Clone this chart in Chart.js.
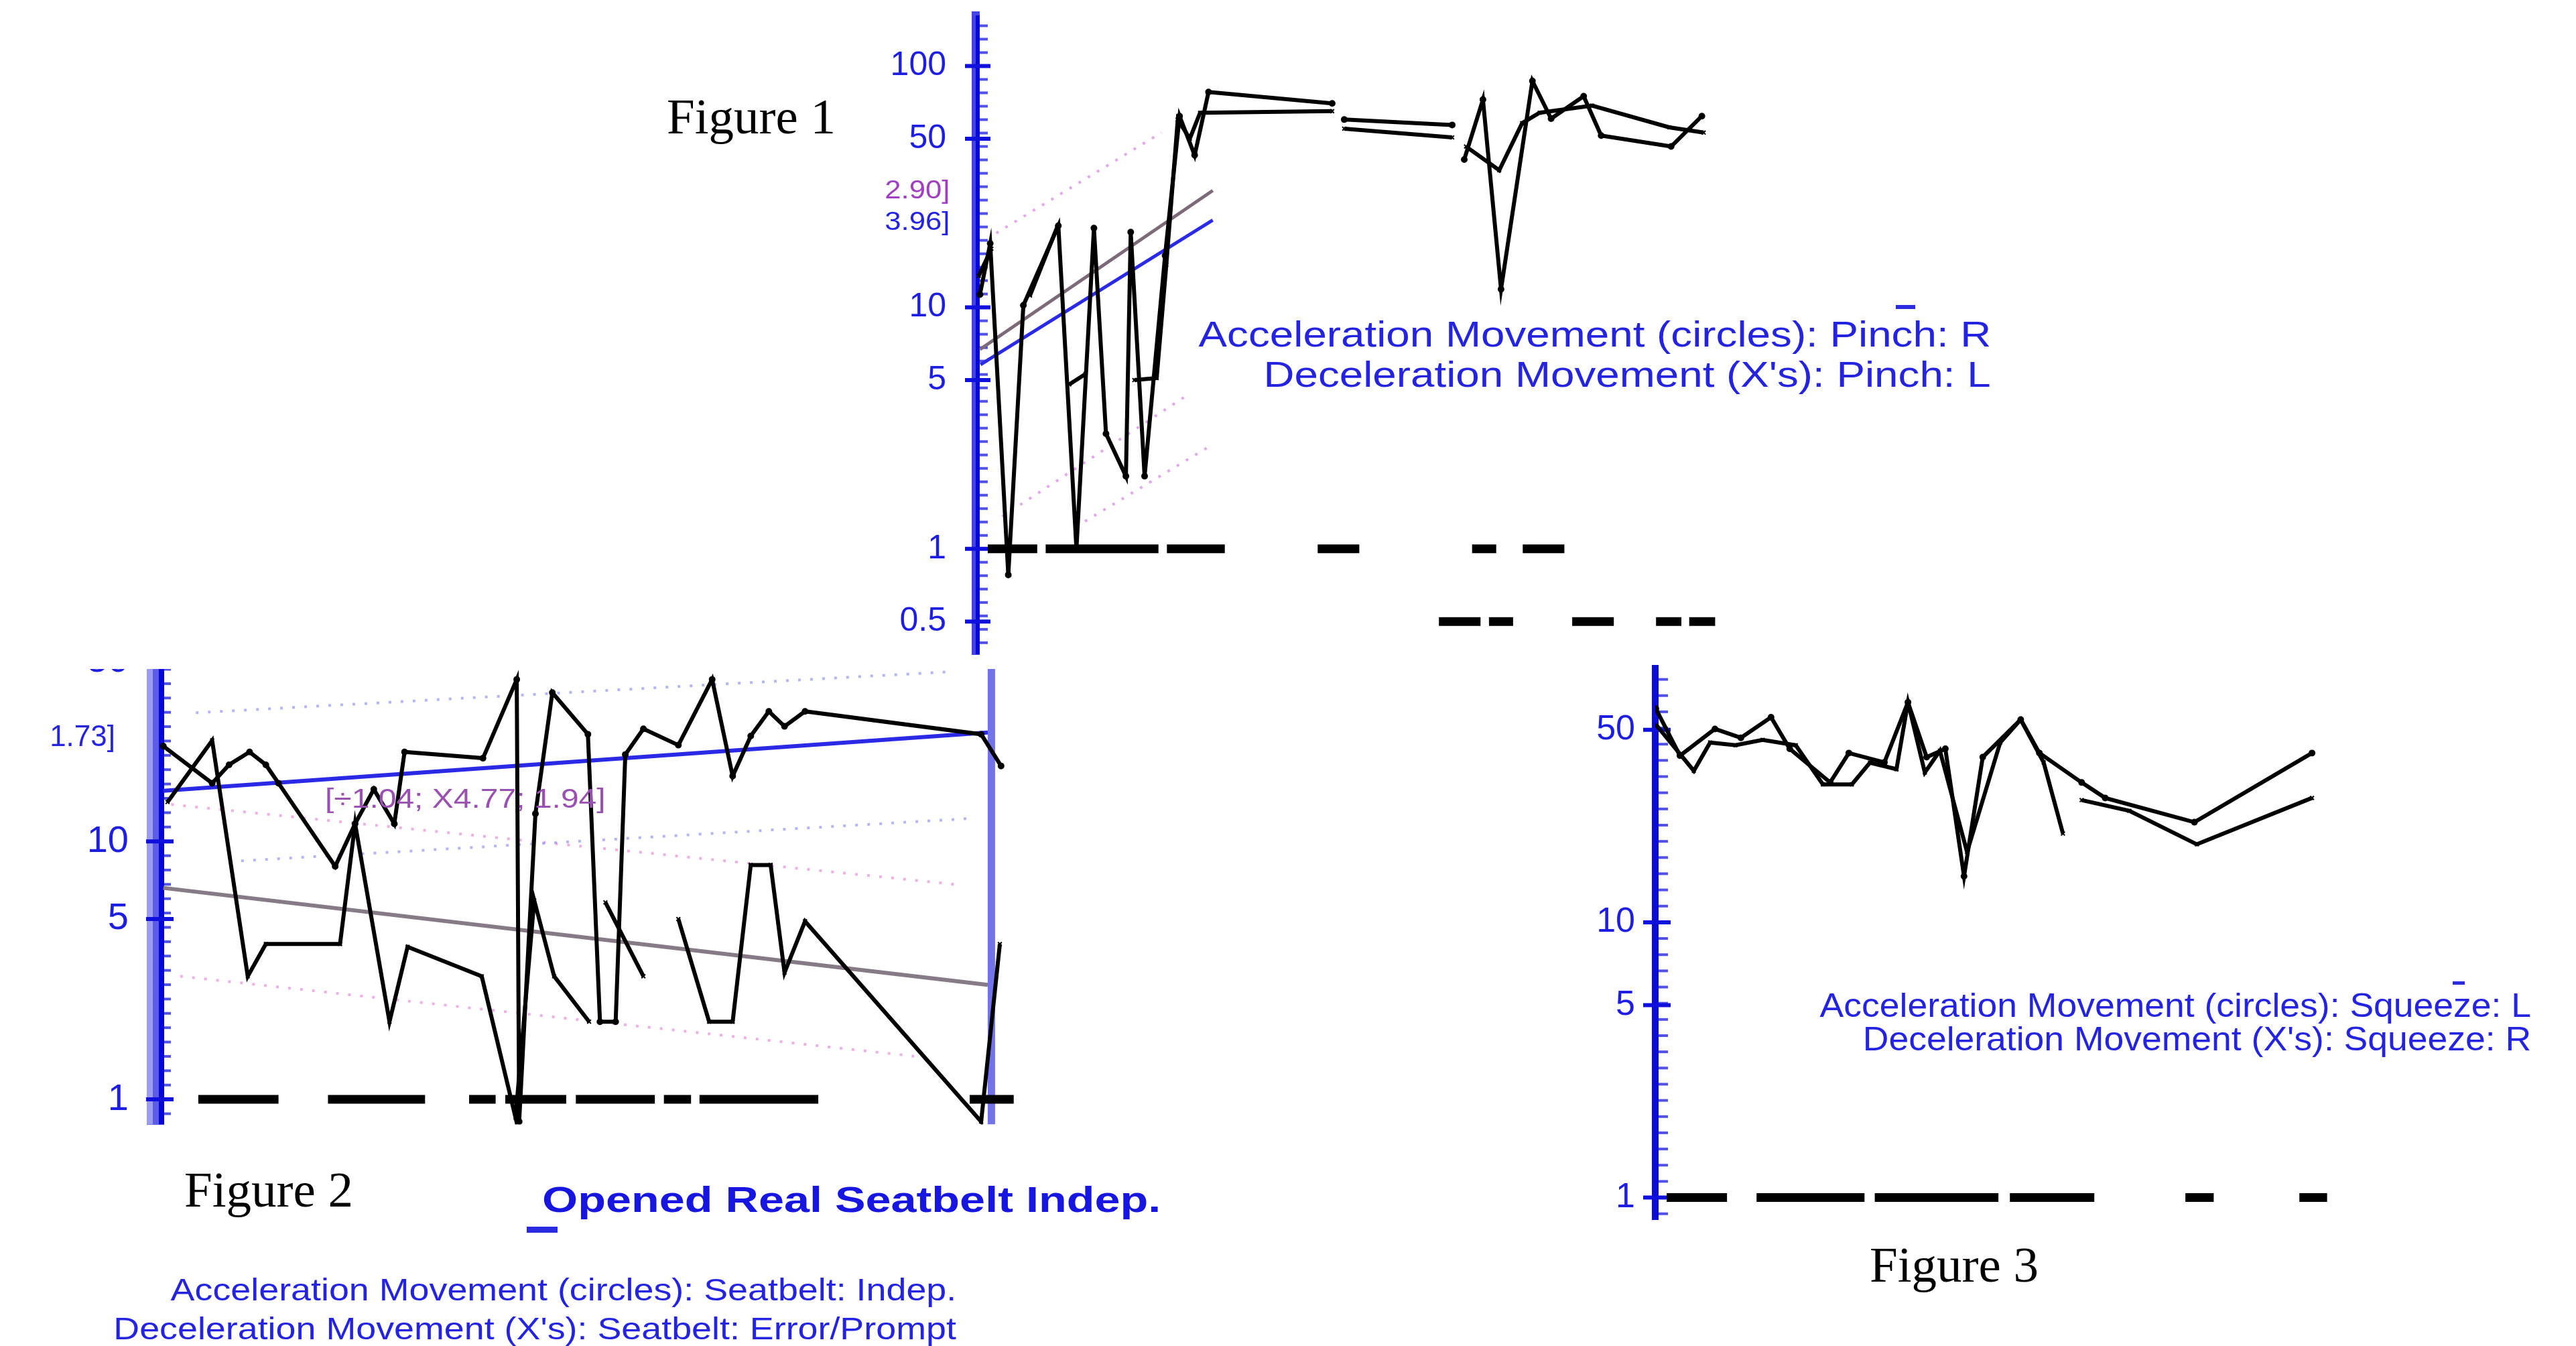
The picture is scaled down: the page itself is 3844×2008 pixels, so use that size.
<!DOCTYPE html>
<html>
<head>
<meta charset="utf-8">
<script src="https://cdn.jsdelivr.net/npm/chart.js@4.4.0/dist/chart.umd.min.js"></script>
<style>
  body { margin: 0; width: 3844px; height: 2008px; background: #fff; position: relative; overflow: hidden; }
  canvas { position: absolute; }
  .t { position: absolute; white-space: nowrap; line-height: 1; }
  .fig { font-family: 'Liberation Serif', 'Times New Roman', serif; font-size: 75px; color: #000; }
  .leg { font-family: 'Liberation Sans', Arial, sans-serif; color: #2424e0; }
  .mark { position: absolute; background: #2a2ae0; }
</style>
</head>
<body>
<canvas id="fig2"></canvas>
<div id="cover" style="position:absolute;left:0;top:860px;width:1545px;height:138px;background:#fff"></div>
<canvas id="fig1"></canvas>
<canvas id="fig3"></canvas>

<div class="t fig" style="left:995px;top:136px">Figure 1</div>
<div class="t fig" style="left:275px;top:1737px">Figure 2</div>
<div class="t fig" style="left:2790px;top:1849px">Figure 3</div>

<div class="t leg" style="right:873px;top:471px;font-size:54px;transform:scaleX(1.18);transform-origin:right">Acceleration Movement (circles): Pinch: R</div>
<div class="t leg" style="right:873px;top:531px;font-size:54px;transform:scaleX(1.18);transform-origin:right">Deceleration Movement (X's): Pinch: L</div>
<div class="mark" style="left:2829px;top:455px;width:29px;height:6px"></div>

<div class="t leg" style="right:67px;top:1475px;font-size:50px;transform:scaleX(1.07);transform-origin:right">Acceleration Movement (circles): Squeeze: L</div>
<div class="t leg" style="right:67px;top:1525px;font-size:50px;transform:scaleX(1.07);transform-origin:right">Deceleration Movement (X's): Squeeze: R</div>
<div class="mark" style="left:3660px;top:1464px;width:18px;height:5px"></div>

<div class="t leg" style="left:809px;top:1763px;font-size:53px;font-weight:bold;color:#1616e0;transform:scaleX(1.29);transform-origin:left">Opened Real Seatbelt Indep.</div>
<div class="mark" style="left:786px;top:1830px;width:46px;height:9px"></div>
<div class="t leg" style="right:2417px;top:1901px;font-size:46px;transform:scaleX(1.17);transform-origin:right">Acceleration Movement (circles): Seatbelt: Indep.</div>
<div class="t leg" style="right:2417px;top:1959px;font-size:46px;transform:scaleX(1.17);transform-origin:right">Deceleration Movement (X's): Seatbelt: Error/Prompt</div>

<div class="t leg" style="right:2426px;top:264px;font-size:38px;color:#a040c0;transform:scaleX(1.15);transform-origin:right">2.90]</div>
<div class="t leg" style="right:2426px;top:311px;font-size:38px;transform:scaleX(1.15);transform-origin:right">3.96]</div>
<div class="t leg" style="right:3672px;top:1076px;font-size:44px">1.73]</div>
<div class="t leg" style="left:485px;top:1171px;font-size:40px;color:#9a50b0;transform:scaleX(1.2);transform-origin:left">[÷1.04; X4.77; 1.94]</div>

<script>
// ---------- Figure 1: Pinch ----------
const fig1AccDays = [0.7, 2.4, 5.4, 7.9, 13.7, 16.7, 19.6, 21.6, 24.9, 25.7, 28.0, 31.4, 33.8, 36.3, 38.6, 59.1, 59.1, 61.1, 79.0, 79.0, 81.0, 84.1, 87.1, 92.3, 95.4, 100.8, 103.7, 115.3, 120.4];
const fig1Acc = [11.3, 18.4, 0.78, 10.2, 21.8, 1.0, 21.3, 3.0, 2.0, 20.5, 2.0, 16.4, 62, 42.7, 78, 70, null, 60, 57, null, 41, 72.6, 11.9, 86.7, 60.5, 75, 51.5, 46.4, 62];
const fig1DecDays = [0.5, 2.6, 2.6, 9.0, 13.5, 13.5, 15.5, 18.2, 18.2, 26.3, 30.0, 31.6, 33.5, 35.5, 37.2, 59.1, 59.1, 61.1, 79.0, 79.0, 81.3, 86.8, 90.6, 93.5, 102.2, 115.0, 120.7];
const fig1Dec = [13.5, 17.5, null, 11.2, 21.5, null, 4.8, 5.3, null, 5.0, 5.1, 15, 60, 50, 64, 65, null, 55, 50.6, null, 46.4, 37, 58, 64, 68.5, 55.7, 53];
const fig1Zero = [[2.0, 10.2], [11.6, 30.3], [31.7, 41.3], [56.7, 63.6], [82.3, 86.3], [90.7, 97.6]];
const fig1Half = [[76.8, 83.7], [85.1, 89.1], [98.9, 105.8], [112.8, 117.0], [118.3, 122.6]];
const fig1TrendBlue = { days: [0.8, 39.3], vals: [5.8, 23] };
const fig1TrendGray = { days: [0.7, 39.3], vals: [6.7, 30.5] };
const fig1Bounce = [
  { days: [3.4, 30.8], vals: [20.3, 53] },
  { days: [4.4, 34.7], vals: [1.36, 4.27] },
  { days: [18.1, 38.9], vals: [1.3, 2.67] }
];
const fig1Ticks = [0.5, 1, 5, 10, 50, 100];

// ---------- Figure 2: Seatbelt ----------
const fig2AccDays = [1.3, 9.4, 12.2, 15.6, 18.3, 20.4, 29.8, 33.1, 36.2, 39.6, 41.3, 54.3, 59.9, 60.3, 63.0, 65.8, 71.7, 73.7, 76.3, 77.9, 80.9, 86.7, 92.3, 95.7, 98.7, 101.7, 104.3, 107.7, 136.9, 140.2];
const fig2Acc = [23.4, 16.8, 19.8, 22.2, 19.8, 16.8, 8.0, 11.7, 15.9, 11.7, 22.2, 21.0, 42.4, 0.82, 12.8, 37.7, 26, 2.0, 2.0, 21.7, 27.3, 23.6, 42.4, 17.9, 25.6, 31.9, 27.9, 31.9, 26, 19.6];
const fig2DecDays = [2.0, 9.4, 15.3, 18.3, 30.6, 33.1, 38.8, 41.8, 54.1, 59.7, 62.8, 66.1, 71.9, 71.9, 74.6, 80.9, 80.9, 86.7, 91.8, 95.7, 98.7, 102.0, 104.3, 107.7, 136.9, 140.0];
const fig2Dec = [14.2, 24.6, 3.0, 4.0, 4.0, 11.7, 2.0, 3.9, 3.0, 0.85, 5.9, 3.0, 2.0, null, 5.8, 3.0, null, 5.0, 2.0, 2.0, 8.1, 8.1, 3.1, 4.9, 0.82, 4.0];
const fig2Zero = [[7.1, 20.4], [28.6, 44.7], [52.0, 56.4], [58.0, 68.1], [69.7, 82.8], [84.3, 88.8], [90.2, 109.9], [135.0, 142.3]];
const fig2TrendBlue = { days: [1.3, 138.0], vals: [15.7, 26.4] };
const fig2TrendGray = { days: [1.3, 138.0], vals: [6.6, 2.78] };
const fig2BounceBlue = [
  { days: [6.7, 132.3], vals: [31.5, 45.5] },
  { days: [14.2, 136.0], vals: [8.4, 12.3] }
];
const fig2BouncePink = [
  { days: [2.6, 132.9], vals: [13.9, 6.8] },
  { days: [4.1, 125.8], vals: [3.0, 1.47] }
];
const fig2Phase = 138.6;
const fig2Ticks = [1, 5, 10, 50];

// ---------- Figure 3: Squeeze ----------
const fig3AccDays = [0.1, 4.1, 9.9, 14.2, 19.2, 22.3, 29.0, 32.1, 38.0, 41.9, 45.0, 48.1, 51.2, 54.3, 60.6, 63.7, 70.7, 74.6, 89.4, 108.9];
const fig3Acc = [59.7, 40.3, 50.4, 46.8, 55.6, 42.7, 32.2, 41.2, 38.1, 63, 39.8, 42.7, 14.7, 39.8, 54.5, 41.2, 32.2, 28.3, 23.1, 41.2];
const fig3DecDays = [0.2, 6.4, 9.1, 13.3, 17.8, 23.3, 27.8, 32.6, 35.6, 40.0, 41.9, 44.7, 47.2, 51.7, 57.2, 60.6, 64.4, 67.6, 67.6, 70.7, 78.6, 89.8, 108.9];
const fig3Dec = [52, 35.5, 45, 44, 46, 44, 31.7, 31.7, 38, 36, 63, 35, 42, 18, 45, 54.5, 38.1, 21.0, null, 27.8, 25.4, 19.2, 28.3];
const fig3Zero = [[1.9, 11.9], [16.8, 34.7], [36.4, 56.9], [58.8, 72.8], [87.9, 92.6], [106.8, 111.4]];
const fig3Ticks = [1, 5, 10, 50];

// ---------- helpers ----------
const SANS = "'Liberation Sans', Arial, sans-serif";
const PAD = 50, AXIS_W = 170;

const pts = (days, vals) => days.map((d, i) => ({ x: d, y: vals[i] }));
const dashPts = (segs, y) => segs.flatMap(([a, b]) => [{ x: a, y: y }, { x: b, y: y }, { x: b, y: null }]);

function series(days, vals, style) {
  return {
    data: pts(days, vals), borderColor: '#000', borderWidth: 6, spanGaps: false,
    pointRadius: 4, pointStyle: style, pointBackgroundColor: '#000', pointBorderColor: '#000', pointBorderWidth: 2
  };
}
function dashes(segs, y) {
  return { data: dashPts(segs, y), borderColor: '#000', borderWidth: 13, borderCapStyle: 'butt', pointRadius: 0, spanGaps: false };
}
function trend(t, color, width, dash) {
  return { data: pts(t.days, t.vals), borderColor: color, borderWidth: width, borderDash: dash || [], pointRadius: 0 };
}

// axis decorations: stripes in the axis band, minor ticks to the right, long ticks at labelled values
const sccAxis = {
  id: 'sccAxis',
  beforeDatasetsDraw(chart, args, o) {
    const s = chart.scales.y, ca = chart.chartArea, ctx = chart.ctx, x0 = ca.left;
    ctx.save();
    (o.stripes || []).forEach(st => {
      ctx.fillStyle = st.color;
      ctx.fillRect(x0 + st.from, ca.top, st.to - st.from, ca.bottom - ca.top);
    });
    ctx.strokeStyle = o.minorColor;
    ctx.lineWidth = 4;
    const lo = Math.log10(s.min) * o.perDecade, hi = Math.log10(s.max) * o.perDecade;
    for (let k = Math.ceil(lo); k <= hi; k++) {
      const y = s.getPixelForValue(Math.pow(10, k / o.perDecade));
      ctx.beginPath(); ctx.moveTo(x0 + o.half, y); ctx.lineTo(x0 + o.half + o.minorLen, y); ctx.stroke();
    }
    ctx.strokeStyle = o.majorColor;
    ctx.lineWidth = 6;
    s.ticks.forEach(t => {
      const y = s.getPixelForValue(t.value);
      ctx.beginPath(); ctx.moveTo(x0 - o.majorLeft, y); ctx.lineTo(x0 + o.half + o.minorLen + 4, y); ctx.stroke();
    });
    ctx.restore();
  }
};

function sccChart(id, box, cfg) {
  const canvas = document.getElementById(id);
  const w = box.right - box.left, h = box.bottom - box.top;
  const make = () => new Chart(canvas, {
    type: 'line',
    data: { datasets: cfg.datasets },
    plugins: [sccAxis],
    options: {
      responsive: false, maintainAspectRatio: false, animation: false, events: [],
      layout: { padding: { left: 0, right: PAD, top: PAD, bottom: PAD } },
      plugins: { legend: { display: false }, tooltip: { enabled: false }, sccAxis: cfg.axis },
      scales: {
        x: { type: 'linear', min: 0, max: cfg.xMax, display: false },
        y: {
          type: 'logarithmic', min: cfg.yMin, max: cfg.yMax,
          afterFit: s => { s.width = AXIS_W; },
          afterBuildTicks: s => { s.ticks = cfg.yTicks.map(v => ({ value: v })); },
          ticks: {
            autoSkip: false, padding: cfg.labelPad, color: '#1e1ee2',
            font: { family: SANS, size: cfg.labelSize }, callback: v => String(v)
          },
          grid: { display: false, drawTicks: false },
          border: { display: true, color: cfg.axis.color, width: cfg.axis.width }
        }
      }
    }
  });
  let cw = Math.round(AXIS_W + w + PAD), ch = Math.round(h + 2 * PAD);
  canvas.width = cw; canvas.height = ch;
  let chart = make();
  let ca = chart.chartArea;
  // the library may reserve extra room; grow the canvas so the plot area has the wanted size
  const dw = Math.round(w - (ca.right - ca.left)), dh = Math.round(h - (ca.bottom - ca.top));
  if (dw !== 0 || dh !== 0) {
    chart.destroy();
    cw += dw; ch += dh;
    canvas.width = cw; canvas.height = ch;
    canvas.style.width = cw + 'px'; canvas.style.height = ch + 'px';
    chart = make();
    ca = chart.chartArea;
  }
  canvas.style.left = (box.left - ca.left) + 'px';
  canvas.style.top = (box.top - ca.top) + 'px';
  return chart;
}

// ---------- build ----------
sccChart('fig1', { left: 1456, right: 2599, top: 23, bottom: 976 }, {
  xMax: 127, yMin: 0.366, yMax: 162, yTicks: fig1Ticks, labelSize: 50, labelPad: 44,
  axis: { color: '#4444e2', width: 12, stripes: [{ from: 0, to: 6, color: '#0606d6' }],
          half: 6, minorLen: 12, majorLeft: 16, perDecade: 18, minorColor: 'rgba(50,50,225,0.85)', majorColor: '#1010dc' },
  datasets: [
    series(fig1AccDays, fig1Acc, 'circle'),
    series(fig1DecDays, fig1Dec, 'crossRot'),
    dashes(fig1Zero, 1),
    dashes(fig1Half, 0.5),
    trend(fig1TrendBlue, '#2a2ae6', 5),
    trend(fig1TrendGray, '#7d6a78', 5),
    ...fig1Bounce.map(b => trend(b, 'rgba(215,140,225,0.75)', 4, [4, 12]))
  ]
});

sccChart('fig2', { left: 232, right: 1528, top: 955.5, bottom: 1677.3 }, {
  xMax: 144, yMin: 0.8, yMax: 60, yTicks: fig2Ticks, labelSize: 56, labelPad: 40,
  axis: { color: '#5c5ce6', width: 26,
          stripes: [{ from: -13, to: -4, color: '#9c9cf0' }, { from: 5, to: 13, color: '#0606d6' }],
          half: 13, minorLen: 10, majorLeft: 14, perDecade: 18, minorColor: 'rgba(50,50,225,0.85)', majorColor: '#1010dc' },
  datasets: [
    series(fig2AccDays, fig2Acc, 'circle'),
    series(fig2DecDays, fig2Dec, 'crossRot'),
    dashes(fig2Zero, 1),
    trend(fig2TrendBlue, '#2a2ae6', 6),
    trend(fig2TrendGray, '#857a85', 6),
    ...fig2BounceBlue.map(b => trend(b, 'rgba(150,150,240,0.7)', 4, [4, 14])),
    ...fig2BouncePink.map(b => trend(b, 'rgba(230,150,220,0.75)', 4, [4, 14])),
    { data: [{ x: fig2Phase, y: 0.8 }, { x: fig2Phase, y: 60 }], borderColor: '#7272ea', borderWidth: 11, pointRadius: 0 }
  ]
});

sccChart('fig3', { left: 2470, right: 3496, top: 997, bottom: 1820 }, {
  xMax: 114, yMin: 0.83, yMax: 83.6, yTicks: fig3Ticks, labelSize: 52, labelPad: 30,
  axis: { color: '#0c0cd8', width: 10, stripes: [],
          half: 5, minorLen: 14, majorLeft: 18, perDecade: 17, minorColor: 'rgba(50,50,225,0.85)', majorColor: '#1010dc' },
  datasets: [
    series(fig3AccDays, fig3Acc, 'circle'),
    series(fig3DecDays, fig3Dec, 'crossRot'),
    dashes(fig3Zero, 1)
  ]
});
</script>
</body>
</html>
